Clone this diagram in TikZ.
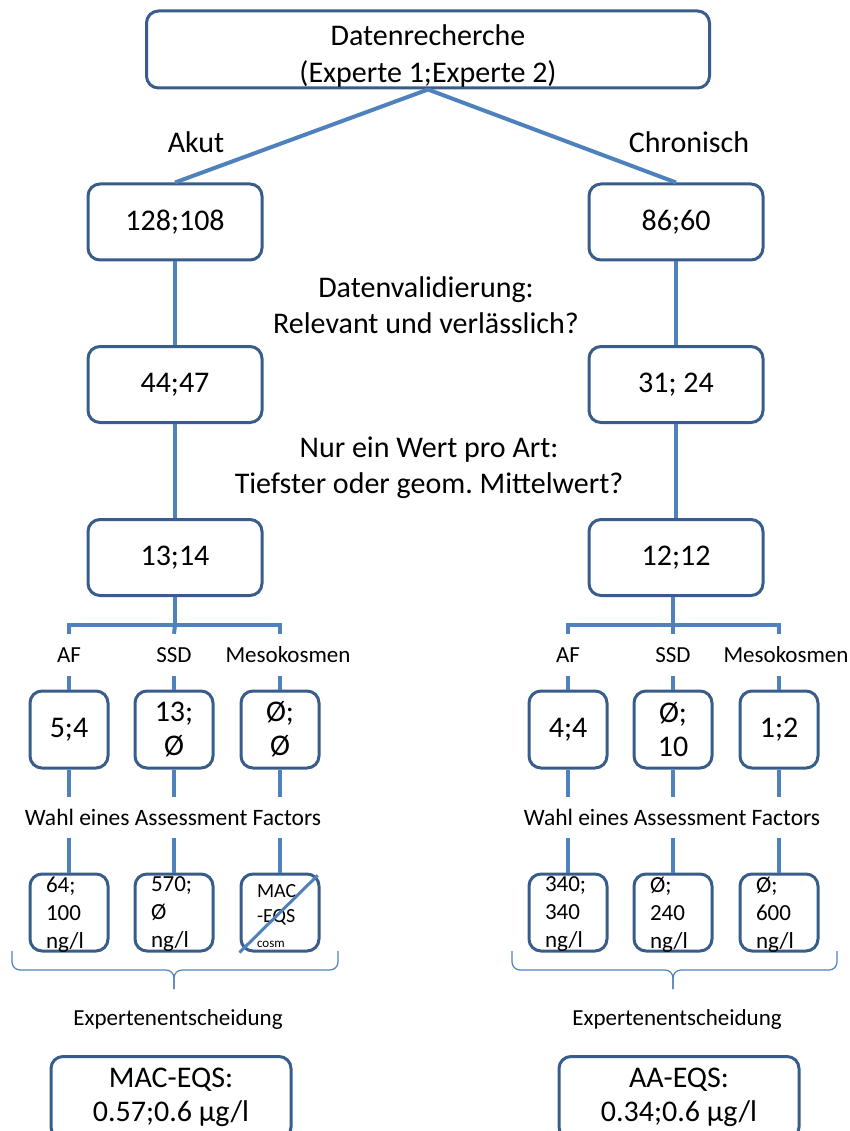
\documentclass[tikz,border=0pt]{standalone}
\usepackage{fontspec}
\setmainfont{Carlito}
\definecolor{linkblue}{RGB}{79,129,189}
\definecolor{frameblue}{RGB}{56,93,138}
\newcommand{\bigtxt}{\fontsize{30}{34}\selectfont}
\newcommand{\smalltxt}{\fontsize{23}{28}\selectfont}
\newcommand{\valtxt}[1]{\parbox[c][71pt][t]{46pt}{\raggedright #1}}
\frenchspacing
\begin{document}
\begin{tikzpicture}[x=1pt,y=1pt,
    box/.style={draw=frameblue,line width=3pt,rounded corners=12pt,fill=white,align=center,inner sep=0pt,font=\bigtxt},
    bigbox/.style={box,minimum width=174pt,minimum height=76pt},
    smallbox/.style={box,minimum width=78pt,minimum height=77pt},
    valbox/.style={box,minimum width=78pt,inner xsep=16pt,inner ysep=3pt,font=\smalltxt},
    endbox/.style={box,anchor=north,minimum width=240pt,inner ysep=12pt},
    conn/.style={draw=linkblue,line width=4pt},
    brace/.style={draw=linkblue,line width=1.2pt,rounded corners=8pt},
    lbl/.style={inner sep=0pt,minimum height=42pt,font=\smalltxt},
    txt/.style={align=center,font=\fontsize{30}{36}\selectfont}]
\useasboundingbox (0,0) rectangle (849,-1131);
%%%% Add nodes for the top and the two columns
    \node[box,minimum width=563pt,minimum height=77pt,font=\fontsize{30}{37}\selectfont] (top) at (428,-49.5) {\rule{0pt}{34pt}Datenrecherche\\(Experte 1;Experte 2)};
    \node[txt] (akut) at (196,-142) {Akut};
    \node[txt] (chron) at (689,-142) {Chronisch};
    \node[bigbox] (a1) at (175,-222) {128;108};
    \node[bigbox] (a2) at (175,-384.5) {44;47};
    \node[bigbox] (a3) at (175,-557.5) {13;14};
    \node[bigbox] (c1) at (676,-222) {86;60};
    \node[bigbox] (c2) at (676,-384.5) {31; 24};
    \node[bigbox] (c3) at (676,-557.5) {12;12};
    \node[txt] (valid) at (426,-305) {Datenvalidierung:\\Relevant und verlässlich?};
    \node[txt] (proart) at (429,-467.5) {Nur ein Wert pro Art:\\Tiefster oder geom. Mittelwert?};
%%%% Add edges between the column boxes
    \draw[conn] (top.south) -- (a1.north);
    \draw[conn] (top.south) -- (c1.north);
    \draw[conn] (a1) -- (a2);
    \draw[conn] (a2) -- (a3);
    \draw[conn] (c1) -- (c2);
    \draw[conn] (c2) -- (c3);
%%%% Add method labels and boxes (left: akut, right: chronisch)
    \node[lbl] (af1) at (69,-655) {AF};
    \node[lbl] (ssd1) at (174,-655) {SSD};
    \node[lbl] (meso1) at (288,-655) {Mesokosmen};
    \node[lbl] (af2) at (568,-655) {AF};
    \node[lbl] (ssd2) at (673,-655) {SSD};
    \node[lbl] (meso2) at (786,-655) {Mesokosmen};
    \node[smallbox] (s1) at (69,-729.5) {5;4};
    \node[smallbox] (s2) at (174,-729.5) {13;\\Ø};
    \node[smallbox] (s3) at (280,-729.5) {Ø;\\Ø};
    \node[smallbox] (s4) at (568,-729.5) {4;4};
    \node[smallbox] (s5) at (673,-729.5) {Ø;\\10};
    \node[smallbox] (s6) at (779,-729.5) {1;2};
    \node[lbl,minimum height=41pt,font=\fontsize{23.5}{28}\selectfont] (w1) at (173,-817.5) {Wahl eines Assessment Factors};
    \node[lbl,minimum height=41pt,font=\fontsize{23.5}{28}\selectfont] (w2) at (672,-817.5) {Wahl eines Assessment Factors};
    \node[valbox] (v1) at (69,-912.5) {\valtxt{64;\\100\\ng/l}};
    \node[valbox] (v2) at (174,-912.5) {\valtxt{570;\\Ø\\ng/l}};
    \node[valbox] (v3) at (280,-912.5) {\valtxt{\fontsize{20}{25}\selectfont\vspace*{8pt}MAC\\-EQS\\{\fontsize{13}{16}\selectfont cosm}}};
    \node[valbox] (v4) at (568,-912.5) {\valtxt{340;\\340\\ng/l}};
    \node[valbox] (v5) at (673,-912.5) {\valtxt{Ø;\\240\\ng/l}};
    \node[valbox] (v6) at (779,-912.5) {\valtxt{Ø;\\600\\ng/l}};
%%%% Add the splits below the columns
    \coordinate (aj) at (175,-625);
    \coordinate (cj) at (673,-625);
    \draw[conn] (a3.south) -- (aj);
    \draw[conn] (s1.north |- af1.north) |- (aj) -| (s3.north |- af1.north);
    \draw[conn] (aj) -- (s2.north |- af1.north);
    \draw[conn] (c3.south -| cj) -- (cj);
    \draw[conn] (s4.north |- af2.north) |- (cj) -| (s6.north |- af2.north);
    \draw[conn] (cj) -- (s5.north |- af2.north);
%%%% Add edges from labels to boxes
    \foreach \s/\v in {s1/v1,s2/v2,s3/v3} {
        \draw[conn] (\s.north |- af1.south) -- (\s.north);
        \draw[conn] (\s.south) -- (\s.south |- w1.north);
        \draw[conn] (\s.south |- w1.south) -- (\v.north);
    }
    \foreach \s/\v in {s4/v4,s5/v5,s6/v6} {
        \draw[conn] (\s.north |- af2.south) -- (\s.north);
        \draw[conn] (\s.south) -- (\s.south |- w2.north);
        \draw[conn] (\s.south |- w2.south) -- (\v.north);
    }
%%%% Cross out the mesocosm value
    \draw[conn,line width=3pt,shorten >=4pt] (v3.south west) -- (v3.north east);
%%%% Add braces and decisions
    \draw[brace] (12,-951) -- (12,-970) -- (174,-970) -- (174,-989);
    \draw[brace] (338,-951) -- (338,-970) -- (174,-970) -- (174,-989);
    \draw[brace] (512,-951) -- (512,-970) -- (673,-970) -- (673,-989);
    \draw[brace] (837,-951) -- (837,-970) -- (673,-970) -- (673,-989);
    \node[font=\smalltxt,anchor=base] (exp1) at (178,-1025) {Expertenentscheidung};
    \node[font=\smalltxt,anchor=base] (exp2) at (677,-1025) {Expertenentscheidung};
    \node[endbox] (mac) at (171,-1055) {MAC-EQS:\\0.57;0.6 µg/l};
    \node[endbox] (aa) at (679,-1055) {AA-EQS:\\0.34;0.6 µg/l};
\end{tikzpicture}
\end{document}
